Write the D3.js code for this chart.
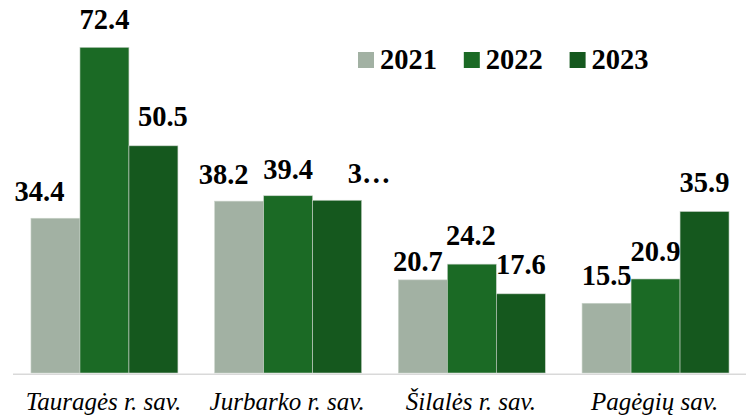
<!DOCTYPE html>
<html>
<head>
<meta charset="utf-8">
<script src="https://cdn.jsdelivr.net/npm/d3@7"></script>
<style>
  body { margin: 0; background: #fff; }
  svg { display: block; }
  text { font-family: "Liberation Serif", Tinos, "Times New Roman", "DejaVu Serif", serif; }
</style>
</head>
<body>
<svg width="746" height="419"></svg>
<script>
var categories = ["Tauragės r. sav.", "Jurbarko r. sav.", "Šilalės r. sav.", "Pagėgių sav."];
var years = ["2021", "2022", "2023"];
var v2021 = [34.4, 38.2, 20.7, 15.5];
var v2022 = [72.4, 39.4, 24.2, 20.9];
var v2023 = [50.5, 38.4, 17.6, 35.9];
// label text as shown (one label is cut off in the original)
var labels2023 = ["50.5", "3…", "17.6", "35.9"];

var colors = ["#a2b1a3", "#1b6a25", "#15581e"];
// label nudges [dx, dy] relative to bar center / bar top
var nudge = [
  [[-16, -17.5], [0, -18], [9.5, -20]],
  [[-15.5, -17.5], [0, -17], [32, -17]],
  [[-5, -8.5], [-1, -19], [0, -19.6]],
  [[0, -18], [0, -18], [0, -19]]
];

var series = [v2021, v2022, v2023];

var svg = d3.select("svg");
var baseY = 373;

var x0 = d3.scaleBand()
    .domain(categories)
    .range([12.6, 747.4])
    .paddingInner(0.2)
    .paddingOuter(0.1);

var x1 = d3.scaleBand()
    .domain(years)
    .range([0, x0.bandwidth()]);

var y = d3.scaleLinear()
    .domain([0, 72.4])
    .range([baseY, 47.3]);

// bars
categories.forEach(function(cat, ci) {
  var g = svg.append("g")
      .attr("transform", "translate(" + x0(cat) + ",0)");

  years.forEach(function(yr, si) {
    var val = series[si][ci];
    g.append("rect")
      .attr("x", x1(yr))
      .attr("y", y(val))
      .attr("width", x1.bandwidth())
      .attr("height", baseY - y(val))
      .attr("fill", colors[si])
      .attr("stroke", "#c9d3c9")
      .attr("stroke-width", 0.6);
  });

  years.forEach(function(yr, si) {
    var val = series[si][ci];
    var txt = si == 2 ? labels2023[ci] : val.toFixed(1);
    g.append("text")
      .attr("x", x1(yr) + x1.bandwidth() / 2 + nudge[ci][si][0])
      .attr("y", y(val) + nudge[ci][si][1])
      .attr("text-anchor", "middle")
      .attr("font-weight", "bold")
      .attr("font-size", "28.5px")
      .attr("fill", "#000")
      .text(txt);
  });
});

// axis line
svg.append("line")
  .attr("x1", 13)
  .attr("x2", 746)
  .attr("y1", 374.3)
  .attr("y2", 374.3)
  .attr("stroke", "#d9d9d9")
  .attr("stroke-width", 1.5);

// category labels
svg.selectAll(".cat")
  .data(categories)
  .enter()
  .append("text")
    .attr("class", "cat")
    .attr("x", function(d) { return x0(d) + x0.bandwidth() / 2 - 1; })
    .attr("y", 410)
    .attr("text-anchor", "middle")
    .attr("font-style", "italic")
    .attr("font-size", "25px")
    .attr("fill", "#000")
    .text(function(d) { return d; });

// legend
var legend = svg.append("g").attr("transform", "translate(358,52)");
years.forEach(function(yr, i) {
  var lg = legend.append("g").attr("transform", "translate(" + (i * 105.8) + ",0)");
  lg.append("rect")
    .attr("width", 16)
    .attr("height", 16)
    .attr("fill", colors[i]);
  lg.append("text")
    .attr("x", 22)
    .attr("y", 17)
    .attr("font-weight", "bold")
    .attr("font-size", "28.5px")
    .attr("fill", "#000")
    .text(yr);
});
</script>
</body>
</html>
